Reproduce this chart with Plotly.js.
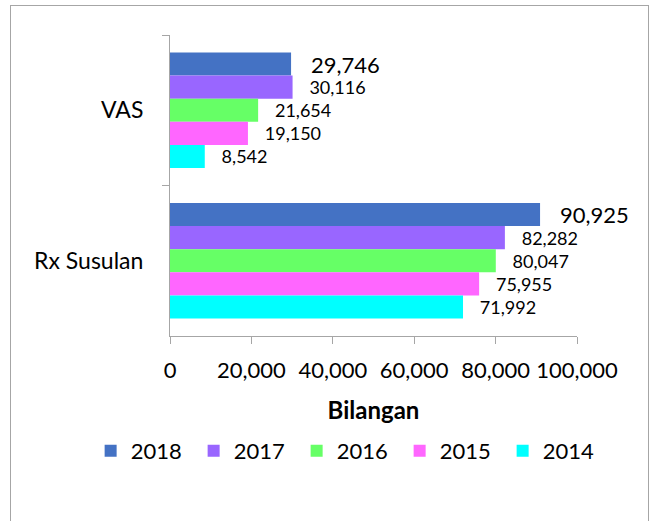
<!DOCTYPE html>
<html>
<head>
<meta charset="utf-8">
<script src="https://cdn.plot.ly/plotly-3.0.1.min.js"></script>
<style>
  html, body { margin: 0; padding: 0; background: #ffffff; }
  #wrap { position: relative; width: 655px; height: 521px; }
  #chart { position: absolute; left: 0; top: 0; width: 655px; height: 521px; }
  #frame { position: absolute; left: 10px; top: 5px; width: 639px; height: 530px;
           border: 1.5px solid #a6a6a6; pointer-events: none; box-sizing: border-box; }
</style>
</head>
<body>
<div id="wrap">
  <div id="chart"></div>
  <div id="frame"></div>
</div>
<script>
const categories = ["VAS", "Rx Susulan"];
const years = ["2018", "2017", "2016", "2015", "2014"];
const values2018 = [29746, 90925];
const values2017 = [30116, 82282];
const values2016 = [21654, 80047];
const values2015 = [19150, 75955];
const values2014 = [8542, 71992];
const colors = ["#4472C4", "#9966FF", "#66FF66", "#FF66FF", "#00FFFF"];
const xTickVals = [0, 20000, 40000, 60000, 80000, 100000];
const xTickText = ["0", "20,000", "40,000", "60,000", "80,000", "100,000"];

const seriesValues = [values2018, values2017, values2016, values2015, values2014];
const labelSizes = [22, 18, 18, 18, 18];
const pad = "\u00a0\u00a0\u00a0";
const FONT = "Lato, 'Open Sans', sans-serif";

const traces = years.map((yr, i) => ({
  type: "bar",
  orientation: "h",
  name: yr,
  y: categories,
  x: seriesValues[i],
  marker: { color: colors[i], line: { width: 0 } },
  text: seriesValues[i].map(v => pad + v.toLocaleString("en-US")),
  textposition: "outside",
  textfont: { family: FONT, size: labelSizes[i], color: "#000000" },
  constraintext: "none",
  cliponaxis: false,
  hoverinfo: "x+name"
}));

const layout = {
  width: 655,
  height: 521,
  margin: { l: 170, r: 78, t: 35, b: 185 },
  paper_bgcolor: "rgba(0,0,0,0)",
  plot_bgcolor: "rgba(0,0,0,0)",
  barmode: "group",
  bargap: 0.233,
  bargroupgap: 0,
  font: { family: FONT, size: 22, color: "#000000" },
  showlegend: true,
  legend: {
    orientation: "h",
    x: -0.195, xanchor: "left",
    y: -0.382, yanchor: "middle",
    font: { size: 22, color: "#000000" },
    traceorder: "normal",
    entrywidth: 58,
    entrywidthmode: "pixels"
  },
  xaxis: {
    range: [0, 100000],
    tickvals: xTickVals,
    ticktext: xTickText,
    ticks: "outside",
    ticklen: 7,
    tickcolor: "#a6a6a6",
    showline: true,
    linecolor: "#a6a6a6",
    linewidth: 1,
    showgrid: false,
    zeroline: false,
    tickfont: { size: 22 },
    ticklabelstandoff: 8,
    title: { text: "Bilangan", font: { size: 24, color: "#000000", family: FONT, weight: "bold" }, standoff: 19 },
    fixedrange: true
  },
  yaxis: {
    type: "category",
    autorange: "reversed",
    tickson: "boundaries",
    ticks: "outside",
    ticklen: 7,
    tickcolor: "#a6a6a6",
    showline: true,
    linecolor: "#a6a6a6",
    linewidth: 1,
    showgrid: false,
    zeroline: false,
    tickfont: { size: 23 },
    ticklabelstandoff: 21,
    fixedrange: true
  }
};

Plotly.newPlot("chart", traces, layout, { displayModeBar: false, staticPlot: true });
</script>
</body>
</html>
